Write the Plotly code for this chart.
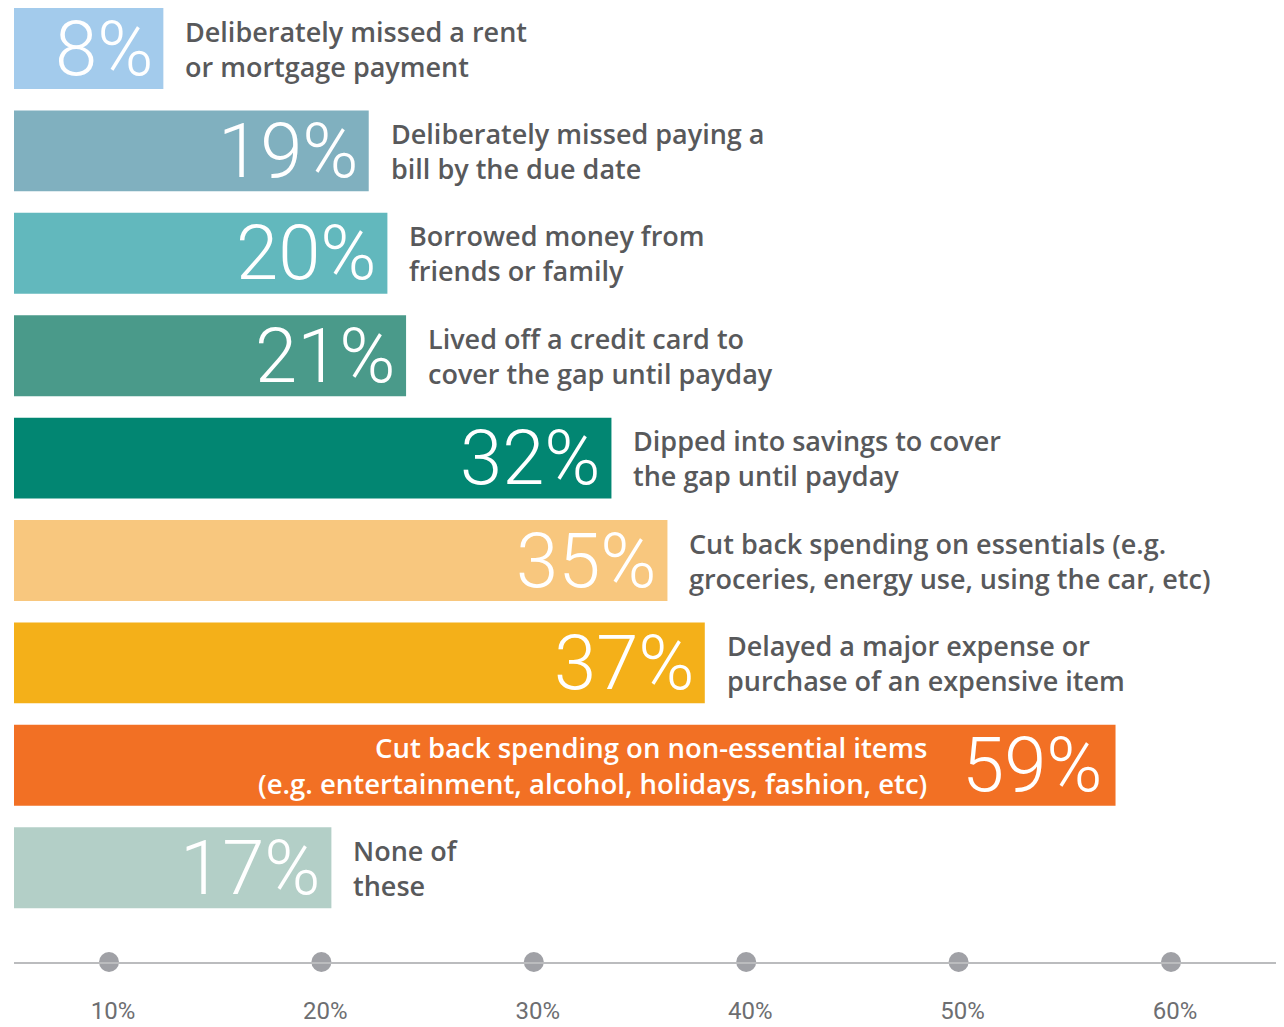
import plotly.graph_objects as go

# ---- data ----
categories = [
    "Deliberately missed a rent<br>or mortgage payment",
    "Deliberately missed paying a<br>bill by the due date",
    "Borrowed money from<br>friends or family",
    "Lived off a credit card to<br>cover the gap until payday",
    "Dipped into savings to cover<br>the gap until payday",
    "Cut back spending on essentials (e.g.<br>groceries, energy use, using the car, etc)",
    "Delayed a major expense or<br>purchase of an expensive item",
    "Cut back spending on non-essential items<br>(e.g. entertainment, alcohol, holidays, fashion, etc)",
    "None of<br>these",
]
values = [8, 19, 20, 21, 32, 35, 37, 59, 17]
axis_ticks = [10, 20, 30, 40, 50, 60]
axis_tick_labels = ["10%", "20%", "30%", "40%", "50%", "60%"]

# ---- styles ----
bar_colors = ["#a3cbec", "#80b0bf", "#62b8bd", "#4a9a8a", "#028672",
              "#f8c77e", "#f4b019", "#f27024", "#b3cfc7"]
inside_label_index = 7  # the long bar carries its description inside
TEXT_GRAY = "#58595b"
PCT_FONT = "Roboto"
LBL_FONT = "Open Sans"

OFF = 8                       # page body margin
W, H = 1284 - OFF, 1027 - OFF
ML, MT = 14 - OFF, 0
plot_right = 1281 - OFF
MR = W - plot_right
axis_px = 962 - OFF
MB = H - axis_px
plot_w = W - ML - MR
plot_h = H - MT - MB
px_per_pct = 18.67            # bar scale
pitch = 102.4                 # px per category slot
first_center = 48.5 - OFF     # px of first bar centre
y_top = -first_center / pitch
y_bot = y_top + plot_h / pitch
# decorative axis scale (differs from bar scale in the original)
ax_px_per_pct = 21.24
ax_zero_px = (109 - OFF) - 10 * ax_px_per_pct
x2_lo = (ML - ax_zero_px) / ax_px_per_pct
x2_hi = (ML + plot_w - ax_zero_px) / ax_px_per_pct

idx = list(range(len(categories)))

fig = go.Figure()
fig.add_trace(go.Bar(
    x=values, y=idx, orientation="h",
    marker=dict(color=bar_colors, line=dict(width=0)),
    width=0.79, hoverinfo="skip", showlegend=False,
))
fig.add_trace(go.Scatter(
    x=axis_ticks, y=[y_bot] * len(axis_ticks), xaxis="x2", yaxis="y",
    mode="markers", marker=dict(size=20, color="#a0a1a6", line=dict(width=0)),
    cliponaxis=False, hoverinfo="skip", showlegend=False,
))

annotations = []
for i, (cat, v) in enumerate(zip(categories, values)):
    annotations.append(dict(
        x=v, y=i, xref="x", yref="y", text=f"{v}%",
        xanchor="right", yanchor="middle", height=78, valign="middle",
        xshift=-8 if i != inside_label_index else -11,
        yshift=0, showarrow=False,
        font=dict(family=PCT_FONT, size=76, color="white", weight=300),
    ))
    if i == inside_label_index:
        annotations.append(dict(
            x=v, y=i, xref="x", yref="y", text=cat,
            xanchor="right", yanchor="middle", align="right", xshift=-187,
            showarrow=False,
            font=dict(family=LBL_FONT, size=27.5, color="white", weight=600),
        ))
    else:
        annotations.append(dict(
            x=v, y=i, xref="x", yref="y", text=cat,
            xanchor="left", yanchor="middle", align="left", xshift=20,
            showarrow=False,
            font=dict(family=LBL_FONT, size=27, color=TEXT_GRAY, weight=600),
        ))

fig.update_layout(
    width=W, height=H,
    margin=dict(l=ML, r=MR, t=MT, b=MB, autoexpand=False),
    paper_bgcolor="white", plot_bgcolor="white",
    bargap=0.21,
    xaxis=dict(range=[0, plot_w / px_per_pct], visible=False, fixedrange=True),
    xaxis2=dict(range=[x2_lo, x2_hi], overlaying="x", side="bottom", anchor="y",
                showline=True, linecolor="#bbbcbe", linewidth=2,
                showgrid=False, zeroline=False, ticks="",
                tickvals=axis_ticks, ticktext=axis_tick_labels,
                ticklabelstandoff=26, ticklabelshift=4,
                tickfont=dict(family=PCT_FONT, size=24, color="#6d6e71", weight=400)),
    yaxis=dict(range=[y_bot, y_top], autorange=False, showticklabels=False,
               showgrid=False, zeroline=False, showline=False, ticks=""),
    annotations=annotations,
    font=dict(family=PCT_FONT),
)

fig.write_html("out.html")
